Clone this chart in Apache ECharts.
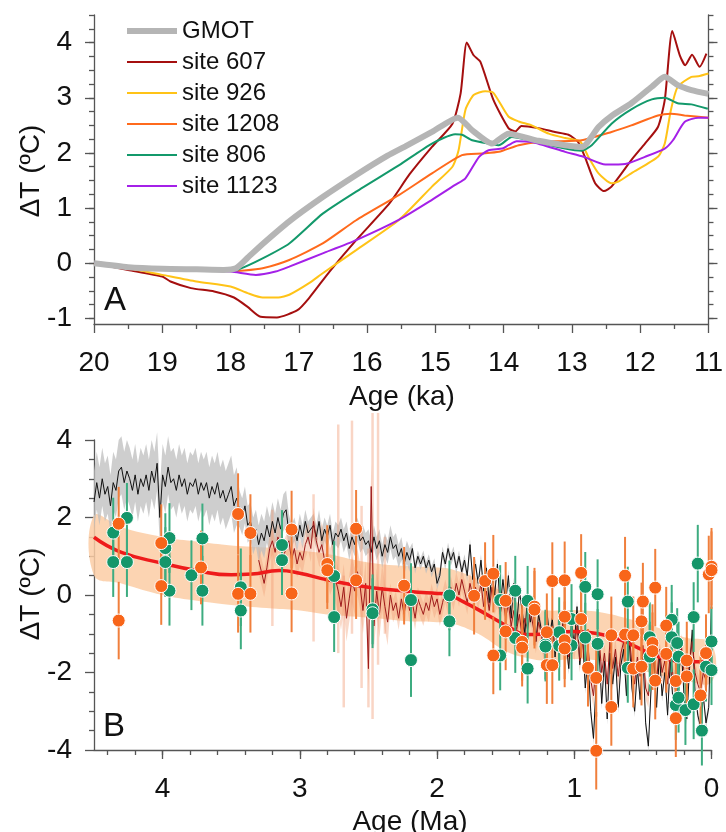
<!DOCTYPE html>
<html><head><meta charset="utf-8">
<script src="https://cdn.jsdelivr.net/npm/echarts@6/dist/echarts.min.js"></script>
<style>html,body{margin:0;padding:0;background:#fff}#c{width:726px;height:832px}</style>
</head><body><div id="c"></div>
<script>
// ---------------- Panel A data (age ka, ΔT) ----------------
const gmotAge = [20,19.5,19,18.5,18.1,17.92,17.75,17.53,17.14,16.65,16.16,15.7,15.44,15.05,14.67,14.45,14.17,13.93,13.49,13.1,12.85,12.61,12.42,12.13,11.83,11.64,11.45,11.25,11.0];
const gmot    = [0.0,-0.07,-0.1,-0.11,-0.12,-0.09,0.1,0.35,0.76,1.2,1.6,1.95,2.12,2.38,2.64,2.4,2.17,2.35,2.22,2.14,2.11,2.47,2.67,2.9,3.2,3.38,3.23,3.14,3.07];
const s607Age = [20,19.5,19.0,18.88,18.58,18.24,17.95,17.75,17.56,17.32,17.02,16.85,16.55,16.16,15.67,15.38,15.05,14.75,14.63,14.54,14.44,14.34,14.15,13.93,13.83,13.74,13.49,13.25,13.05,12.91,12.81,12.66,12.53,12.42,12.13,11.93,11.74,11.64,11.53,11.42,11.34,11.24,11.13,11.03];
const s607    = [0,-0.12,-0.24,-0.33,-0.45,-0.51,-0.62,-0.79,-0.97,-0.98,-0.85,-0.63,-0.15,0.42,1.09,1.61,2.11,2.53,3.08,4.0,3.77,3.65,2.96,2.45,2.39,2.49,2.45,2.38,2.33,2.2,1.93,1.45,1.31,1.39,1.87,2.17,2.47,2.96,4.21,3.77,3.59,3.78,3.56,3.8];
const s926Age = [20,19.5,19.0,18.5,18.0,17.75,17.53,17.3,17.14,16.85,16.65,16.16,15.53,15.05,14.75,14.66,14.56,14.44,14.27,14.15,13.93,13.78,13.59,13.34,13.1,12.88,12.76,12.61,12.42,12.32,12.13,11.74,11.64,11.55,11.45,11.25,11.15,11.0];
const s926    = [0,-0.09,-0.21,-0.33,-0.42,-0.54,-0.62,-0.62,-0.57,-0.36,-0.18,0.24,0.79,1.39,1.75,2.05,2.78,3.05,3.12,3.09,2.66,2.57,2.5,2.35,2.27,2.21,1.93,1.63,1.45,1.48,1.63,1.93,2.17,2.78,3.2,3.38,3.39,3.44];
const s1208Age = [20,19.0,18.0,17.8,17.53,17.14,16.65,16.16,15.53,15.05,14.61,14.32,14.07,13.78,13.49,12.86,12.42,12.13,11.74,11.55,11.35,11.0];
const s1208    = [0,-0.1,-0.14,-0.13,-0.09,0.06,0.36,0.78,1.24,1.63,1.96,1.99,2.02,2.14,2.2,2.23,2.38,2.5,2.68,2.71,2.68,2.64];
const s806Age = [20,19.0,18.0,17.9,17.53,17.14,16.65,16.16,15.53,15.05,14.71,14.61,14.46,14.17,14.07,13.88,13.59,13.1,12.86,12.71,12.42,12.13,11.83,11.64,11.45,11.25,11.01];
const s806    = [0,-0.1,-0.14,-0.12,0.09,0.36,0.9,1.3,1.78,2.17,2.34,2.33,2.23,2.16,2.14,2.29,2.22,2.08,2.04,2.14,2.53,2.79,2.97,3.0,2.9,2.88,2.8];
const s1123Age = [20,19.0,18.5,18.0,17.63,17.34,17.14,16.65,16.16,15.53,15.05,14.71,14.56,14.36,14.22,14.02,13.93,13.81,13.59,13.1,12.83,12.51,12.22,11.93,11.64,11.52,11.35,11.15,11.0];
const s1123    = [0,-0.1,-0.13,-0.15,-0.21,-0.15,-0.06,0.18,0.42,0.79,1.15,1.42,1.54,1.93,2.05,2.08,2.14,2.21,2.2,2.02,1.93,1.79,1.8,1.93,2.08,2.23,2.56,2.64,2.64];

const aXLabels = [11,12,13,14,15,16,17,18,19,20];
const aYLabels = [-1,0,1,2,3,4];
const aYMinor  = [-1,-0.75,-0.5,-0.25,0,0.25,0.5,0.75,1,1.25,1.5,1.75,2,2.25,2.5,2.75,3,3.25,3.5,3.75,4,4.25,4.5];

// ---------------- Panel B data (age Ma, ΔT) ----------------
// black record: values every 0.02 Ma from 4.50 to 0.00
const blackStart = 4.5, blackStep = 0.02;
const blackVals = [
2.4,2.9,2.5,3.0,2.6,2.8,2.3,2.9,2.7,3.2,
3.3,2.9,3.2,3.0,2.7,3.1,2.6,3.0,2.8,3.1,
2.7,3.2,2.9,3.4,2.0,3.1,2.8,3.3,2.9,3.0,
2.7,3.1,2.8,3.0,2.6,2.9,2.8,3.0,2.6,2.9,
2.7,2.9,2.5,2.8,2.6,2.9,2.5,2.7,2.4,2.6,
2.8,2.3,2.5,2.2,2.0,2.3,1.8,1.9,1.5,1.7,
1.3,1.6,1.4,1.8,1.5,1.9,1.6,2.0,1.7,2.1,
2.2,1.6,1.5,1.7,1.4,1.8,1.5,1.9,1.6,1.7,
1.8,1.5,1.9,1.4,1.7,1.5,1.8,1.3,1.6,1.5,
1.7,1.4,1.6,1.2,1.5,1.3,1.7,1.4,1.5,1.3,
1.4,1.1,1.5,1.2,1.4,1.0,1.3,1.1,1.5,1.2,
1.3,1.0,1.2,0.8,1.1,0.9,1.2,0.7,1.0,0.8,
1.0,0.7,0.9,0.6,0.8,0.3,0.5,1.1,0.8,1.2,
0.9,1.1,0.7,1.0,0.6,0.9,0.5,1.3,0.4,0.8,
0.3,0.9,0.1,0.7,-0.2,0.6,0.0,0.8,-0.3,0.4,
-0.2,0.5,-0.6,0.3,-0.8,0.1,-0.4,-1.0,0.0,-0.7,
-0.3,-1.2,-0.5,-0.9,-1.5,-0.4,-1.1,-0.6,-1.6,-0.8,
-1.4,-0.6,-1.2,-1.9,-0.7,-1.3,-0.3,-1.8,-1.0,-2.4,
-1.6,-3.0,-3.7,-2.2,-1.4,-2.8,-1.7,-3.2,-1.5,-2.3,
-1.6,-2.9,-1.8,-1.4,-2.6,-1.1,-2.4,-3.0,-1.9,-2.7,
-1.5,-3.3,-3.9,-2.4,-1.6,-2.9,-1.5,-2.6,-2.0,-3.1,
-1.7,-2.8,-3.3,-2.1,-1.4,-2.6,-3.2,-1.9,-0.9,-2.5,
-3.1,-3.4,-2.6,-3.3,-2.9,-0.1];
// grey uncertainty of black record: [from age, to age, above, below]
const greyBand = [[4.5,3.45,0.8,0.7],[3.45,3.08,0.5,0.45],[3.08,2.2,0.3,0.3],[2.2,0,0.15,0.15]];

// dark red record: values every 0.02 Ma from 3.30 to 0.00
const darkStart = 3.3, darkStep = 0.02;
const darkVals = [
0.9,0.6,0.3,0.7,1.2,1.4,1.1,1.5,1.3,1.0,
1.2,1.4,0.9,1.2,0.8,1.1,0.9,1.3,1.5,1.2,
1.9,1.4,1.1,1.3,0.9,1.0,0.6,0.8,0.4,0.1,
-0.3,0.2,-0.6,-0.1,0.4,0.1,0.6,0.2,-0.4,0.3,
-1.9,2.8,-0.8,0.1,-0.5,0.2,-0.3,-0.7,0.0,-0.4,
-0.2,-0.6,-0.1,-0.5,0.0,-0.4,-0.2,-0.6,-0.1,-0.3,
-0.5,-0.2,-0.4,0.0,-0.3,-0.1,-0.5,-0.2,0.1,-0.2,
0.2,-0.1,0.3,0.0,0.4,0.1,-0.2,0.3,0.0,0.2,
-0.1,0.3,-0.3,0.1,-0.4,0.2,-0.2,0.0,-0.5,-0.1,
-0.6,-0.2,-0.8,-0.4,-0.9,-0.5,-1.1,-0.6,-0.9,-0.4,
-0.8,-1.2,-0.7,-1.0,-1.5,-0.6,-1.2,-0.8,-1.4,-0.9,
-1.2,-0.7,-1.3,-1.6,-0.9,-1.4,-0.8,-1.7,-1.1,-2.0,
-1.3,-2.2,-2.6,-1.7,-1.1,-2.0,-1.5,-2.3,-1.2,-1.9,
-1.4,-2.1,-1.5,-1.2,-2.0,-1.0,-1.8,-2.3,-1.6,-2.1,
-1.3,-2.4,-2.6,-1.8,-1.5,-2.2,-1.4,-2.0,-1.7,-2.3,
-1.5,-2.1,-2.5,-1.8,-1.3,-2.0,-2.4,-1.7,-1.2,-2.0,
-2.3,-2.5,-2.0,-2.2,-1.9,-1.5];
const darkBand = [[3.3,2.85,0.35],[2.85,2.35,0.6],[2.35,0,0.3]];
// pale salmon spikes: [age, low, high]
const salmonSpikes = [[3.2,-0.8,2.2],[2.9,-1.2,2.6],[2.72,-1.5,4.4],[2.68,-2.9,0.5],[2.62,-1.0,4.5],[2.55,-2.4,2.3],[2.50,-2.9,1.2],[2.47,-3.2,4.7],[2.43,-1.8,4.7],[2.38,-1.0,1.5]];

// smooth red mean and peach band
const redAge  = [4.5,4.3,4.0,3.75,3.5,3.35,3.15,3.0,2.8,2.5,2.2,2.0,1.95,1.8,1.6,1.45,1.35,1.2,1.0,0.8,0.65,0.5,0.35,0.2,0.05,0.0];
const redMean = [1.49,1.1,0.82,0.63,0.52,0.54,0.63,0.56,0.39,0.2,0.09,0.04,0.03,-0.19,-0.58,-0.88,-1.02,-1.0,-0.94,-1.02,-1.18,-1.42,-1.63,-1.72,-1.72,-1.72];
const bandAge = [4.5,4.3,4.0,3.75,3.5,3.2,3.0,2.8,2.5,2.2,2.0,1.9,1.7,1.5,1.35,1.2,1.0,0.8,0.6,0.4,0.2,0.0];
const bandUp  = [2.05,1.75,1.5,1.38,1.28,1.22,1.15,1.06,0.84,0.74,0.71,0.67,0.41,0.03,-0.32,-0.4,-0.39,-0.45,-0.62,-0.83,-1.09,-1.26];
const bandLo  = [0.51,0.3,0.0,-0.15,-0.26,-0.35,-0.4,-0.5,-0.58,-0.68,-0.7,-0.72,-1.0,-1.45,-1.62,-1.7,-1.65,-1.7,-1.85,-2.05,-2.2,-2.25];

// proxy points: [age, ΔT, error]
const orangePts = [
[4.32,1.84,0.95],[4.32,-0.66,1.0],[4.01,1.34,1.0],[4.01,0.23,1.0],[3.72,0.71,0.95],[3.45,2.09,1.05],[3.45,0.03,1.0],[3.36,1.6,1.0],[3.36,0.03,1.0],
[3.06,1.69,1.0],[3.06,0.04,1.0],[2.80,0.8,1.0],[2.80,0.64,1.0],[2.59,1.71,1.0],[2.59,0.38,1.0],[2.24,0.24,1.0],
[1.73,-0.02,1.0],[1.65,0.36,1.0],[1.59,0.55,1.0],[1.59,-1.56,1.0],[1.50,-0.15,1.0],[1.50,-0.94,1.0],[1.38,-1.21,1.0],[1.38,-1.36,1.0],
[1.29,-0.3,1.0],[1.29,-0.38,1.0],[1.20,-0.96,1.0],[1.20,-1.81,1.0],[1.16,-1.81,1.0],[1.16,0.36,1.0],[1.07,0.38,1.0],[1.07,-0.56,1.0],
[1.07,-1.17,1.0],[1.07,-1.38,1.0],[0.95,0.57,1.0],[0.95,-0.62,1.0],[0.90,-1.88,1.0],[0.84,-2.14,1.0],[0.84,-4.02,1.0],[0.73,-1.04,1.0],
[0.73,-2.89,1.0],[0.63,0.5,1.0],[0.63,-1.02,1.0],[0.57,-1.04,1.0],[0.57,-1.9,1.0],[0.51,-0.68,1.0],[0.51,-1.85,1.0],[0.50,-0.17,1.0],
[0.43,-1.24,1.0],[0.43,-1.45,1.0],[0.41,0.19,1.0],[0.41,-2.21,1.0],[0.33,-0.79,1.0],[0.33,-1.52,1.0],[0.26,-2.22,1.0],[0.26,-3.18,1.0],
[0.18,-1.69,1.0],[0.18,-2.1,1.0],[0.08,-2.59,1.0],[0.04,-1.5,1.0],[0.02,0.53,1.0],[0.0,0.73,1.0],[0.0,0.64,1.0]];
const greenPts = [
[4.36,1.61,0.9],[4.36,0.85,0.9],[4.26,1.99,0.9],[4.26,0.85,0.9],[3.98,1.21,0.9],[3.98,0.85,0.9],[3.95,1.47,0.9],[3.95,0.11,0.9],
[3.79,0.51,0.9],[3.71,1.46,0.9],[3.71,0.11,0.9],[3.43,0.2,1.0],[3.43,-0.4,1.0],[3.13,1.29,0.9],[3.13,0.9,0.9],[2.75,0.49,0.9],
[2.75,-0.57,0.9],[2.47,-0.37,0.9],[2.47,-0.47,0.9],[2.19,-0.13,0.95],[2.19,-1.68,0.95],[1.91,-0.01,0.9],[1.91,-0.68,0.9],
[1.54,-0.13,0.9],[1.54,-1.56,0.9],[1.43,0.11,0.9],[1.43,-1.11,0.9],[1.34,-0.15,0.9],[1.34,-1.9,0.9],[1.21,-1.28,0.9],[1.21,-1.33,0.9],
[1.11,-0.96,0.9],[1.11,-1.31,0.9],[1.02,-0.62,0.9],[1.02,-1.3,0.9],[0.92,0.21,0.9],[0.92,-1.1,0.9],[0.83,0.02,0.9],[0.83,-1.26,0.9],
[0.61,-0.17,0.9],[0.61,-1.88,0.9],[0.45,-1.09,0.9],[0.45,-1.59,0.9],[0.29,-0.64,0.9],[0.29,-1.09,0.9],[0.25,-1.24,0.9],[0.24,-1.59,0.9],
[0.26,-2.84,0.9],[0.24,-2.65,0.9],[0.19,-2.97,0.9],[0.13,-2.82,0.9],[0.13,-0.57,0.9],[0.10,0.81,1.0],[0.07,-3.5,0.9],[0.04,-1.85,0.9],
[0.0,-1.2,0.9],[0.0,-1.94,0.9]];

const bXLabels = [0,1,2,3,4];
const bXMinor  = [0,0.2,0.4,0.6,0.8,1,1.2,1.4,1.6,1.8,2,2.2,2.4,2.6,2.8,3,3.2,3.4,3.6,3.8,4,4.2,4.4];

// ---------------- helpers ----------------
const FONT = 'Liberation Sans, Arial, Helvetica, sans-serif';
const AX = '#555';
const pairs = (xs, ys) => xs.map((x, i) => [x, ys[i]]);
const gridAge = (start, step, n) => Array.from({length: n}, (_, i) => +(start - i * step).toFixed(3));
const blackAge = gridAge(blackStart, blackStep, blackVals.length);
const darkAge = gridAge(darkStart, darkStep, darkVals.length);
function seg(table, age){ for (const r of table) if (age <= r[0] && age >= r[1]) return r; return table[table.length-1]; }

function bandSeries(xs, up, lo, fill, z, smooth){
  return {type:'custom', xAxisIndex:1, yAxisIndex:4, data:[[0,0]], silent:true, z:z, clip:false,
    renderItem:(p, api)=>{
      const pts=[];
      for (let i=0;i<xs.length;i++) pts.push(api.coord([xs[i], up[i]]));
      for (let i=xs.length-1;i>=0;i--) pts.push(api.coord([xs[i], lo[i]]));
      return {type:'polygon', shape:{points:pts, smooth:smooth||0}, style:{fill:fill}};
    }};
}
function errSeries(pts, color, z){
  return {type:'custom', xAxisIndex:1, yAxisIndex:4, data:pts, silent:true, z:z, clip:false,
    encode:{x:0,y:1},
    renderItem:(p, api)=>{
      const a = api.value(0), v = api.value(1), e = api.value(2);
      const p1 = api.coord([a, v - e]), p2 = api.coord([a, v + e]);
      return {type:'line', shape:{x1:p1[0],y1:p1[1],x2:p2[0],y2:p2[1]}, style:{stroke:color, lineWidth:2}};
    }};
}

const greyUp = blackVals.map((v,i)=> v + seg(greyBand, blackAge[i])[2]);
const greyLo = blackVals.map((v,i)=> v - seg(greyBand, blackAge[i])[3]);
const darkUp = darkVals.map((v,i)=> v + seg(darkBand, darkAge[i])[2]);
const darkLo = darkVals.map((v,i)=> v - seg(darkBand, darkAge[i])[2]);

function lineA(name, xs, ys, color, width, z){
  return {name, type:'line', xAxisIndex:0, yAxisIndex:0, data:pairs(xs, ys), symbol:'none', showSymbol:false, smooth:0.2,
    lineStyle:{color, width}, itemStyle:{color}, z, silent:true};
}

const axisLineStyle = {color:AX, width:1.3};
const labelStyle = {fontSize:28, color:'#111', fontFamily:FONT};

const option = {
  animation:false,
  backgroundColor:'#fff',
  grid:[
    {left:94, top:15, width:617, height:309},
    {left:94, top:440, width:617.5, height:310}
  ],
  legend:{
    orient:'vertical', left:119, top:14, itemWidth:50, itemHeight:14, itemGap:7,
    selectedMode:false,
    lineStyle:{width:'inherit'},
    itemStyle:{opacity:0},
    textStyle:{fontSize:24, color:'#111', fontFamily:FONT},
    data:['GMOT','site 607','site 926','site 1208','site 806','site 1123']
  },
  xAxis:[
    {gridIndex:0, type:'value', min:11, max:20, interval:1, inverse:true, position:'bottom',
     axisLine:{show:true, onZero:false, lineStyle:axisLineStyle},
     axisTick:{show:true, length:9, lineStyle:axisLineStyle},
     minorTick:{show:true, splitNumber:2, length:5, lineStyle:axisLineStyle},
     axisLabel:Object.assign({margin:25, customValues:aXLabels}, labelStyle),
     splitLine:{show:false}},
    {gridIndex:1, type:'value', min:0, max:4.5, inverse:true, position:'bottom',
     axisLine:{show:true, onZero:false, lineStyle:axisLineStyle},
     axisTick:{show:true, length:9, customValues:bXLabels, lineStyle:axisLineStyle},
     axisLabel:Object.assign({margin:25, customValues:bXLabels}, labelStyle),
     splitLine:{show:false}},
    {gridIndex:1, type:'value', min:0, max:4.5, inverse:true, position:'bottom', offset:0,
     axisLine:{show:false, onZero:false},
     axisTick:{show:true, length:5, customValues:bXMinor, lineStyle:axisLineStyle},
     axisLabel:{show:false}, splitLine:{show:false}}
  ],
  yAxis:[
    {gridIndex:0, type:'value', min:-1.1, max:4.5, position:'left',
     axisLine:{show:true, onZero:false, lineStyle:axisLineStyle},
     axisTick:{show:true, length:9, customValues:aYLabels, lineStyle:axisLineStyle},
     axisLabel:Object.assign({margin:22, customValues:aYLabels}, labelStyle),
     splitLine:{show:false}},
    {gridIndex:0, type:'value', min:-1.1, max:4.5, position:'left', offset:0,
     axisLine:{show:false, onZero:false},
     axisTick:{show:true, length:5, customValues:aYMinor, lineStyle:axisLineStyle},
     axisLabel:{show:false}, splitLine:{show:false}},
    {gridIndex:0, type:'value', min:-1.1, max:4.5, position:'right', offset:0,
     axisLine:{show:true, onZero:false, lineStyle:axisLineStyle},
     axisTick:{show:true, length:9, customValues:aYLabels, lineStyle:axisLineStyle},
     axisLabel:{show:false}, splitLine:{show:false}},
    {gridIndex:0, type:'value', min:-1.1, max:4.5, position:'right', offset:0,
     axisLine:{show:false, onZero:false},
     axisTick:{show:true, length:5, customValues:aYMinor, lineStyle:axisLineStyle},
     axisLabel:{show:false}, splitLine:{show:false}},
    {gridIndex:1, type:'value', min:-4, max:4, interval:2, position:'left',
     axisLine:{show:true, onZero:false, lineStyle:axisLineStyle},
     axisTick:{show:true, length:9, lineStyle:axisLineStyle},
     minorTick:{show:true, splitNumber:4, length:5, lineStyle:axisLineStyle},
     axisLabel:Object.assign({margin:22}, labelStyle),
     splitLine:{show:false}}
  ],
  graphic:[
    {type:'text', x:31, y:171, rotation:Math.PI/2, style:{text:'ΔT (ºC)', fontSize:28, fontFamily:FONT, fill:'#111', align:'center', verticalAlign:'middle'}},
    {type:'text', x:31, y:594, rotation:Math.PI/2, style:{text:'ΔT (ºC)', fontSize:28, fontFamily:FONT, fill:'#111', align:'center', verticalAlign:'middle'}},
    {type:'text', x:402, y:397, style:{text:'Age (ka)', fontSize:28, fontFamily:FONT, fill:'#111', align:'center', verticalAlign:'middle'}},
    {type:'text', x:410, y:822, style:{text:'Age (Ma)', fontSize:28, fontFamily:FONT, fill:'#111', align:'center', verticalAlign:'middle'}},
    {type:'text', x:104, y:301, style:{text:'A', fontSize:33, fontFamily:FONT, fill:'#111', align:'left', verticalAlign:'middle'}},
    {type:'text', x:103, y:727, style:{text:'B', fontSize:33, fontFamily:FONT, fill:'#111', align:'left', verticalAlign:'middle'}}
  ],
  series:[
    lineA('site 607', s607Age, s607, '#a50f0f', 2, 2),
    lineA('site 926', s926Age, s926, '#ffc317', 2, 2),
    lineA('site 1208', s1208Age, s1208, '#ff6a1c', 2, 2),
    lineA('site 806', s806Age, s806, '#13996b', 2, 2),
    lineA('site 1123', s1123Age, s1123, '#a420e8', 2, 2),
    lineA('GMOT', gmotAge, gmot, '#b5b5b5', 6, 3),

    bandSeries(bandAge, bandUp, bandLo, 'rgba(251,205,165,0.85)', 1, 0.4),
    bandSeries(blackAge, greyUp, greyLo, 'rgba(190,190,190,0.75)', 2, 0),
    bandSeries(darkAge, darkUp, darkLo, 'rgba(240,160,120,0.4)', 3, 0),
    {type:'custom', xAxisIndex:1, yAxisIndex:4, data:salmonSpikes, silent:true, z:3, clip:false, encode:{x:0,y:1},
     renderItem:(p, api)=>{
       const a=api.value(0), lo=api.value(1), hi=api.value(2);
       const p1=api.coord([a,lo]), p2=api.coord([a,hi]);
       return {type:'line', shape:{x1:p1[0],y1:p1[1],x2:p2[0],y2:p2[1]}, style:{stroke:'rgba(240,150,110,0.4)', lineWidth:2.5}};
     }},
    {type:'line', xAxisIndex:1, yAxisIndex:4, data:pairs(blackAge, blackVals), symbol:'none', silent:true, z:4,
     lineStyle:{color:'#111', width:1}},
    {type:'line', xAxisIndex:1, yAxisIndex:4, data:pairs(darkAge, darkVals), symbol:'none', silent:true, z:5,
     lineStyle:{color:'#9e1a1a', width:1}},
    {type:'line', xAxisIndex:1, yAxisIndex:4, data:pairs(redAge, redMean), symbol:'none', silent:true, z:6, smooth:0.5,
     lineStyle:{color:'#ee1b1b', width:3.5}},
    errSeries(greenPts, '#3dac80', 7),
    errSeries(orangePts, '#f07f3c', 7),
    {type:'scatter', xAxisIndex:1, yAxisIndex:4, data:greenPts.map(p=>[p[0],p[1]]), symbolSize:13, z:8, clip:false, silent:true,
     itemStyle:{color:'#14966a', borderColor:'#fff', borderWidth:1, opacity:1}},
    {type:'scatter', xAxisIndex:1, yAxisIndex:4, data:orangePts.map(p=>[p[0],p[1]]), symbolSize:13, z:9, clip:false, silent:true,
     itemStyle:{color:'#f86519', borderColor:'#fff', borderWidth:1, opacity:1}}
  ]
};
const chart = echarts.init(document.getElementById('c'));
chart.setOption(option);
</script>
</body></html>
